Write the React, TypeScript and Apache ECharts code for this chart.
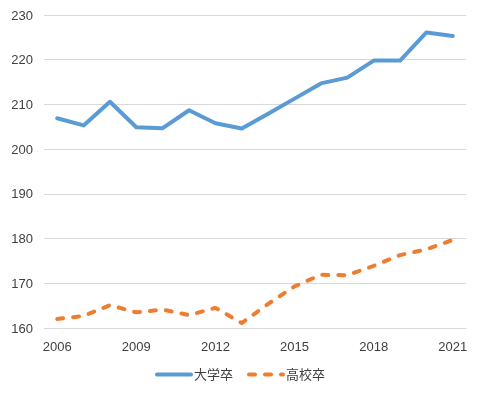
import React, { useEffect, useRef } from "react";
import * as echarts from "echarts";

const years = ["2006","2007","2008","2009","2010","2011","2012","2013","2014","2015","2016","2017","2018","2019","2020","2021"];
const daigaku = [206.9,205.3,210.6,204.9,204.7,208.7,205.8,204.6,207.9,211.3,214.7,216.0,219.8,219.8,226.1,225.3];
const koukou = [162.0,162.7,165.1,163.5,164.1,162.9,164.5,161.1,165.4,169.3,171.9,171.8,173.9,176.3,177.6,179.7];
const seriesNames = ["大学卒", "高校卒"];

export default function App() {
  const ref = useRef<HTMLDivElement>(null);
  useEffect(() => {
    const chart = echarts.init(ref.current!, undefined, { renderer: "svg" });
    const font = "'Liberation Sans', 'Noto Sans CJK JP', sans-serif";
    chart.setOption({
      animation: false,
      grid: { left: 44, right: 14, top: 15, bottom: 68 },
      xAxis: {
        type: "category",
        data: years,
        boundaryGap: true,
        axisLine: { lineStyle: { color: "#D9D9D9" } },
        axisTick: { show: false },
        axisLabel: {
          interval: 2,
          color: "#404040",
          fontSize: 13,
          fontFamily: font,
          margin: 12,
        },
      },
      yAxis: {
        type: "value",
        min: 160,
        max: 230,
        interval: 10,
        axisLine: { show: false },
        axisTick: { show: false },
        splitLine: { lineStyle: { color: "#D9D9D9", width: 1 } },
        axisLabel: { color: "#404040", fontSize: 13, fontFamily: font, margin: 11 },
      },
      legend: {
        bottom: 10,
        left: "center",
        itemWidth: 34,
        itemHeight: 10,
        itemGap: 14,
        itemStyle: { opacity: 0 },
        lineStyle: { width: 4, cap: "round" },
        textStyle: { color: "#404040", fontSize: 13, fontFamily: font, padding: [0, 0, 0, -2] },
        data: seriesNames,
      },
      series: [
        {
          name: seriesNames[0],
          type: "line",
          data: daigaku,
          symbol: "none",
          lineStyle: { color: "#5B9BD5", width: 4, cap: "round", join: "round" },
          itemStyle: { color: "#5B9BD5" },
        },
        {
          name: seriesNames[1],
          type: "line",
          data: koukou,
          symbol: "none",
          lineStyle: { color: "#ED7D31", width: 4, type: [6, 10], cap: "round", join: "round" },
          itemStyle: { color: "#ED7D31" },
        },
      ],
    });
    return () => chart.dispose();
  }, []);
  return <div ref={ref} style={{ position: "fixed", left: 0, top: 0, width: 480, height: 396 }} />;
}
